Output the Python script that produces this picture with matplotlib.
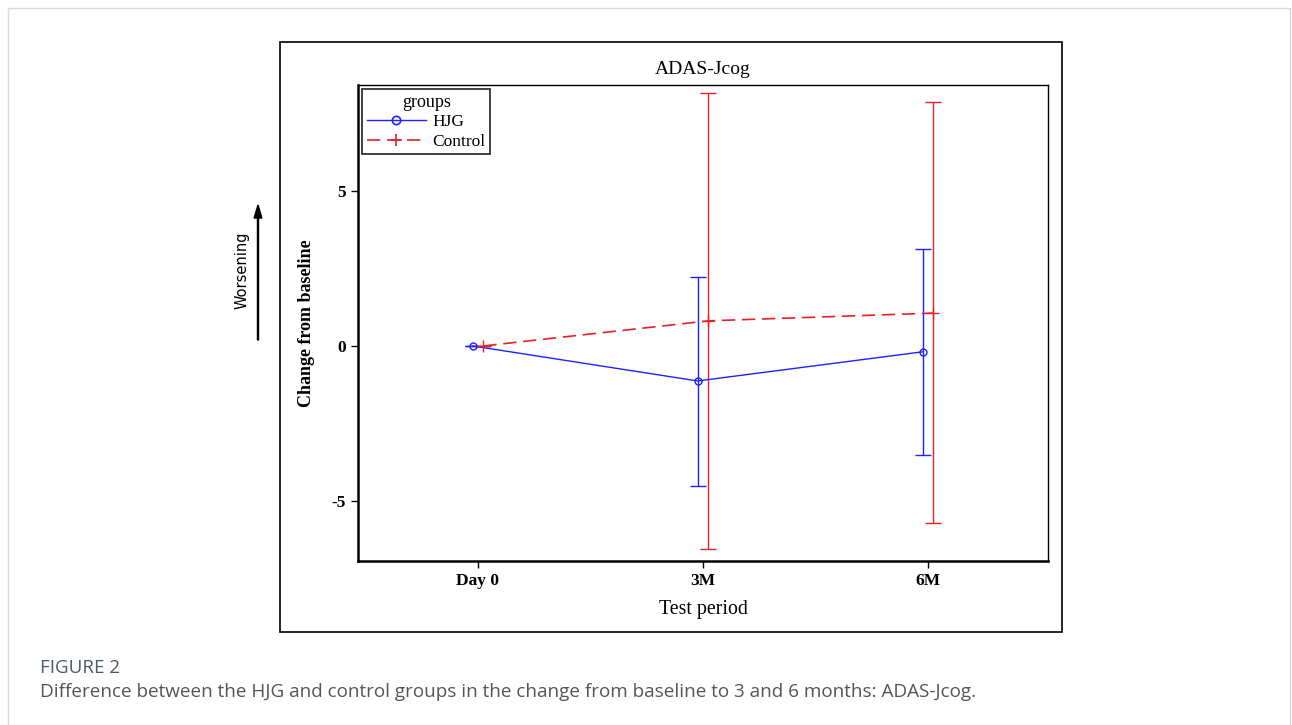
import numpy as np
import matplotlib.pyplot as plt
from matplotlib.patches import Rectangle, FancyArrow
from matplotlib.lines import Line2D

# data
periods = ['Day 0', '3M', '6M']
hjg_mean = [0.0, -1.13, -0.19]
hjg_low = [0.0, -4.52, -3.52]
hjg_high = [0.0, 2.23, 3.13]
ctl_mean = [0.0, 0.81, 1.06]
ctl_low = [0.0, -6.55, -5.71]
ctl_high = [0.0, 8.16, 7.87]

plt.rcParams['font.family'] = ['Liberation Serif', 'DejaVu Serif']

fig = plt.figure(figsize=(12.92, 7.25), dpi=100)

# outer card and chart frame
fig.patches.append(Rectangle((8/1292, -0.01), 1282/1292, 1.0 - 8/725 + 0.01,
                             transform=fig.transFigure, fill=False,
                             edgecolor='#d9d9d9', linewidth=1.0))
fig.patches.append(Rectangle((280/1292, 1 - 632/725), 782/1292, 590/725,
                             transform=fig.transFigure, fill=False,
                             edgecolor='black', linewidth=1.2))

ax = fig.add_axes([358/1292, 1 - 561/725, 690/1292, 476/725])

blue = '#2020ff'
red = '#e8202a'
dash = (0, (8, 4))

x = np.arange(len(periods))
off = 0.024
hm = np.array(hjg_mean)
cm = np.array(ctl_mean)
herr = [hm - np.array(hjg_low), np.array(hjg_high) - hm]
cerr = [cm - np.array(ctl_low), np.array(ctl_high) - cm]

ax.errorbar(x - off, hm, yerr=herr, color=blue, lw=1.0, marker='o',
            ms=5, mfc='none', mew=1.0, capsize=6, elinewidth=1.0)
ax.errorbar(x + off, cm, yerr=cerr, color=red, lw=1.2,
            linestyle=dash, marker='+', ms=8, mew=1.0, capsize=6,
            elinewidth=1.0)

ax.set_xlim(-0.533, 2.533)
ax.set_ylim(-6.94, 8.42)
ax.set_xticks(x)
ax.set_xticklabels(periods, fontsize=12.5, fontweight='bold')
ax.set_yticks([-5, 0, 5])
ax.set_yticklabels(['-5', '0', '5'], fontsize=12.5, fontweight='bold')
ax.tick_params(direction='out', length=5, width=1.0)

for side in ['left', 'bottom']:
    ax.spines[side].set_linewidth(1.8)
for side in ['top', 'right']:
    ax.spines[side].set_linewidth(1.0)

ax.set_title('ADAS-Jcog', fontsize=14, pad=8)
ax.set_xlabel('Test period', fontsize=14.3, labelpad=8)
ax.set_ylabel('Change from baseline', fontsize=13, fontweight='bold', labelpad=12)

handles = [Line2D([], [], color=blue, lw=1.0, marker='o', ms=6, mfc='none', mew=1.2),
           Line2D([], [], color=red, lw=1.2, linestyle=dash, marker='+', ms=9, mew=1.2)]
leg = ax.legend(handles, ['HJG', 'Control'], title='groups', loc='upper left',
                prop={'size': 12.5}, title_fontsize=13, frameon=True,
                fancybox=False, edgecolor='black', borderaxespad=0.25,
                handlelength=3.4, borderpad=0.25, labelspacing=0.2,
                handletextpad=0.4)
leg.get_frame().set_linewidth(1.3)

# worsening arrow
fig.patches.append(FancyArrow(
    258/1292, 1 - 340/725, 0, 135/725, width=0.0008, head_width=0.006,
    head_length=0.018, length_includes_head=True, color='black',
    transform=fig.transFigure))
fig.text(242/1292, 1 - 270/725, 'Worsening', rotation=90, ha='center',
         va='center', fontsize=10.5, family='DejaVu Sans')

# caption
fig.text(40/1292, 1 - 668/725, 'FIGURE 2', fontsize=13.5, color='#4a5a6a',
         va='center', family='Open Sans')
fig.text(40/1292, 1 - 692/725,
         'Difference between the HJG and control groups in the change from '
         'baseline to 3 and 6 months: ADAS-Jcog.',
         fontsize=13.6, color='#555555', va='center', family='Open Sans')

fig.savefig('out.png', dpi=100)
